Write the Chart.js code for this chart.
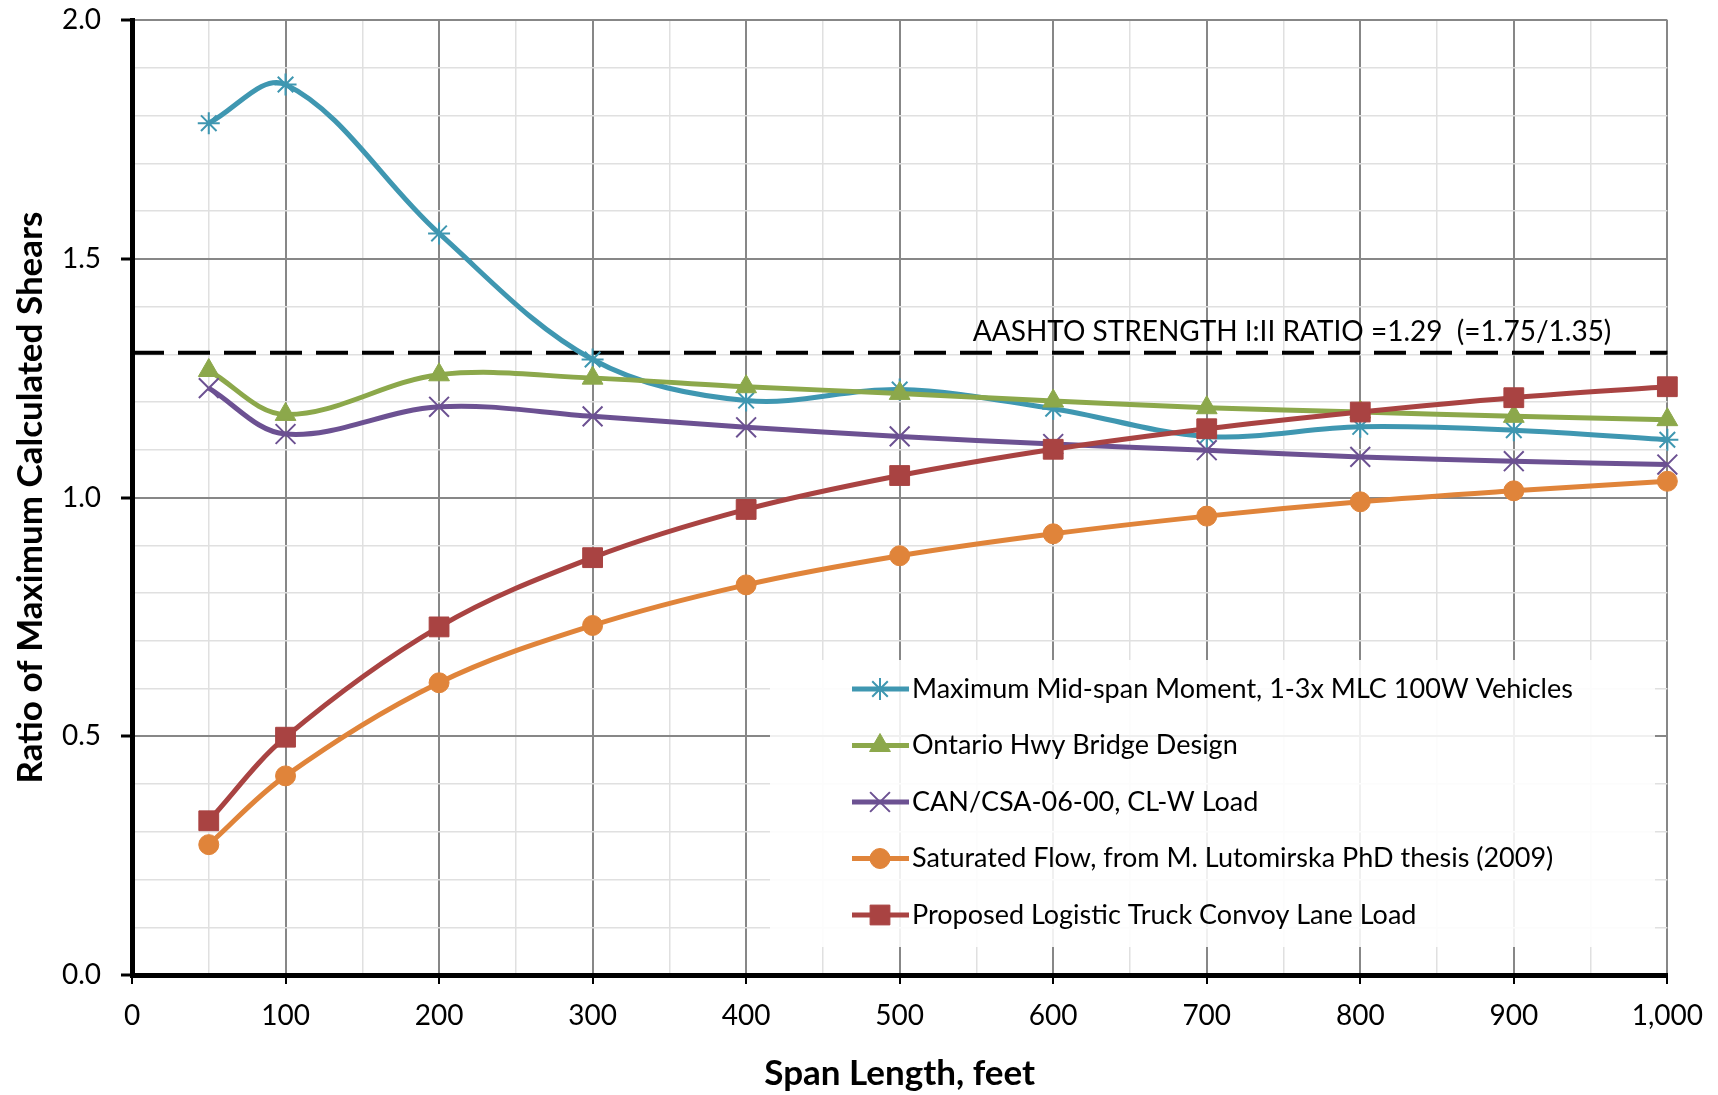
<!DOCTYPE html>
<html>
<head>
<meta charset="utf-8">
<title>Ratio of Maximum Calculated Shears</title>
<script src="https://cdn.jsdelivr.net/npm/chart.js@4.4.1/dist/chart.umd.min.js"></script>
<style>
  html, body { margin: 0; padding: 0; background: #fff; }
  #charter { display: block; }
</style>
</head>
<body>
<canvas id="charter" width="1718" height="1095"></canvas>
<script>
// Datos
const spans = [50, 100, 200, 300, 400, 500, 600, 700, 800, 900, 1000];
const midSpanMoment = [1.784, 1.865, 1.553, 1.289, 1.203, 1.226, 1.186, 1.128, 1.148, 1.141, 1.121];
const ontarioHwy = [1.266, 1.174, 1.257, 1.250, 1.232, 1.218, 1.202, 1.188, 1.179, 1.170, 1.163];
const canCsa = [1.229, 1.133, 1.190, 1.170, 1.147, 1.128, 1.112, 1.099, 1.085, 1.076, 1.069];
const saturatedFlow = [0.273, 0.417, 0.612, 0.732, 0.817, 0.878, 0.924, 0.961, 0.991, 1.014, 1.034];
const proposedLane = [0.323, 0.498, 0.729, 0.874, 0.975, 1.046, 1.101, 1.144, 1.179, 1.209, 1.232];
const aashtoSpans = [0, 1000];
const aashtoValues = [1.303, 1.303];
const seriesNames = [
    'Maximum Mid-span Moment, 1-3x MLC 100W Vehicles',
    'Ontario Hwy Bridge Design',
    'CAN/CSA-06-00, CL-W Load',
    'Saturated Flow, from M. Lutomirska PhD thesis (2009)',
    'Proposed Logistic Truck Convoy Lane Load'
];
const aashtoLabel = 'AASHTO STRENGTH I:II RATIO =1.29  (=1.75/1.35)';
const xTickValues = [0, 100, 200, 300, 400, 500, 600, 700, 800, 900, 1000];
const xTickLabels = ['0', '100', '200', '300', '400', '500', '600', '700', '800', '900', '1,000'];
const yTickValues = [0, 0.5, 1.0, 1.5, 2.0];
const yTickLabels = ['0.0', '0.5', '1.0', '1.5', '2.0'];

const FONT = 'Lato, "Open Sans", sans-serif';
const toPoints = (xs, ys) => xs.map((x, i) => ({ x: x, y: ys[i] }));

function serie(label, values, color, pointStyle, radius, order) {
    return {
        label: label,
        data: toPoints(spans, values),
        borderColor: color,
        backgroundColor: color,
        pointBackgroundColor: color,
        pointBorderColor: color,
        borderWidth: 5,
        pointStyle: pointStyle,
        pointRadius: radius,
        pointBorderWidth: (pointStyle === 'star' || pointStyle === 'crossRot') ? 2 : 1,
        tension: 0.35,
        clip: false,
        order: order
    };
}

const datasets = [
    serie(seriesNames[0], midSpanMoment, '#3F97B1', 'star', 11, 5),
    serie(seriesNames[1], ontarioHwy, '#8CA84B', 'triangle', 12, 4),
    serie(seriesNames[2], canCsa, '#6C5192', 'crossRot', 14, 3),
    serie(seriesNames[3], saturatedFlow, '#E0843A', 'circle', 10, 2),
    serie(seriesNames[4], proposedLane, '#A94342', 'rect', 14, 1),
    {
        label: 'AASHTO',
        data: toPoints(aashtoSpans, aashtoValues),
        borderColor: '#000',
        borderWidth: 4,
        borderDash: [32, 14],
        pointRadius: 0,
        tension: 0,
        clip: false,
        order: 6,
        enLeyenda: false
    }
];

// leyenda dibujada dentro del area del grafico, abajo a la derecha
const leyenda = {
    id: 'leyenda',
    beforeDatasetsDraw(chart) {
        const { ctx, chartArea } = chart;
        ctx.save();
        ctx.fillStyle = 'rgba(255,255,255,0.88)';
        ctx.fillRect(chartArea.left + 638, chartArea.top + 640, 885, 287);
        ctx.restore();
    },
    afterDatasetsDraw(chart) {
        const { ctx, chartArea } = chart;
        ctx.save();
        let fila = 0;
        chart.data.datasets.forEach(ds => {
            if (ds.enLeyenda === false) return;
            const y = chartArea.top + 669 + fila * 56.5;
            const x0 = chartArea.left + 720;
            ctx.strokeStyle = ds.borderColor;
            ctx.fillStyle = ds.borderColor;
            ctx.lineWidth = ds.borderWidth;
            ctx.setLineDash([]);
            ctx.beginPath();
            ctx.moveTo(x0, y);
            ctx.lineTo(x0 + 57, y);
            ctx.stroke();
            ctx.lineWidth = ds.pointBorderWidth;
            Chart.helpers.drawPoint(ctx, {
                pointStyle: ds.pointStyle,
                rotation: 0,
                radius: ds.pointRadius,
                borderWidth: ds.pointBorderWidth
            }, x0 + 28, y);
            ctx.fillStyle = '#000';
            ctx.font = '27px ' + FONT;
            ctx.textBaseline = 'middle';
            ctx.textAlign = 'left';
            ctx.fillText(ds.label, x0 + 60, y);
            fila++;
        });
        // etiqueta de la linea AASHTO
        const yLinea = chart.scales.y.getPixelForValue(aashtoValues[0]);
        ctx.fillStyle = '#000';
        ctx.font = '28px ' + FONT;
        ctx.textAlign = 'right';
        ctx.textBaseline = 'middle';
        ctx.fillText(aashtoLabel, chartArea.right - 56, yLinea - 21);
        ctx.restore();
    }
};

const esMayor = (v, paso) => Math.abs(v / paso - Math.round(v / paso)) < 1e-6;

const config = {
    type: 'line',
    data: { datasets: datasets },
    options: {
        responsive: false,
        animation: false,
        events: [],
        layout: { padding: { top: 20, right: 49, left: 0, bottom: 0 } },
        plugins: {
            legend: { display: false },
            tooltip: { enabled: false }
        },
        scales: {
            x: {
                type: 'linear',
                min: 0,
                max: 1000,
                afterFit: scale => { scale.height = 120; },
                ticks: {
                    stepSize: 50,
                    autoSkip: false,
                    maxRotation: 0,
                    padding: 15,
                    color: '#000',
                    font: { family: FONT, size: 28 },
                    callback: v => {
                        const i = xTickValues.indexOf(v);
                        return i >= 0 ? xTickLabels[i] : '';
                    }
                },
                grid: {
                    color: c => esMayor(c.tick.value, 100) ? '#878787' : '#e0e0e0',
                    lineWidth: c => esMayor(c.tick.value, 100) ? 2 : 1.5,
                    tickColor: c => esMayor(c.tick.value, 100) ? '#000' : 'rgba(0,0,0,0)',
                    tickWidth: 2,
                    tickLength: 9
                },
                border: { color: '#000', width: 5 },
                title: {
                    display: true,
                    text: 'Span Length, feet',
                    color: '#000',
                    font: { family: FONT, size: 35, weight: 'bold' },
                    padding: { top: 0, bottom: 0 }
                }
            },
            y: {
                min: 0,
                max: 2,
                afterFit: scale => {
                    scale.width = 132;
                    scale.paddingTop = 0;
                    scale.paddingBottom = 0;
                },
                ticks: {
                    stepSize: 0.1,
                    autoSkip: false,
                    padding: 20,
                    color: '#000',
                    font: { family: FONT, size: 28 },
                    callback: v => {
                        const i = yTickValues.findIndex(t => Math.abs(t - v) < 1e-6);
                        return i >= 0 ? yTickLabels[i] : '';
                    }
                },
                grid: {
                    color: c => esMayor(c.tick.value, 0.5) ? '#878787' : '#e0e0e0',
                    lineWidth: c => esMayor(c.tick.value, 0.5) ? 2 : 1.5,
                    tickColor: c => esMayor(c.tick.value, 0.5) ? '#000' : 'rgba(0,0,0,0)',
                    tickWidth: 3,
                    tickLength: 11
                },
                border: { color: '#000', width: 5 },
                title: {
                    display: true,
                    text: 'Ratio of Maximum Calculated Shears',
                    color: '#000',
                    font: { family: FONT, size: 35, weight: 'bold' },
                    padding: { top: 10, bottom: 0 }
                }
            }
        }
    },
    plugins: [leyenda]
};

const chart = new Chart(document.getElementById('charter'), config);
</script>
</body>
</html>
